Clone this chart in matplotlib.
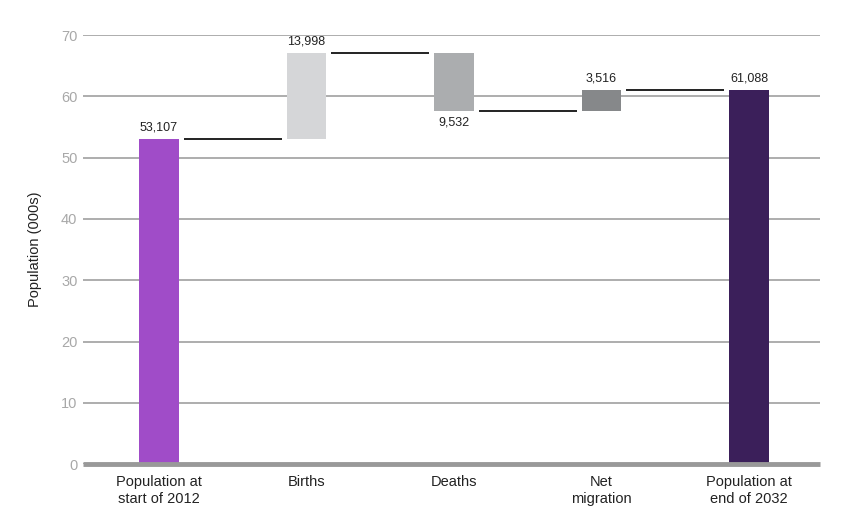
import matplotlib
matplotlib.use("Agg")
import matplotlib.pyplot as plt

categories = ["Population at\nstart of 2012", "Births", "Deaths", "Net\nmigration", "Population at\nend of 2032"]
changes = [53.107, 13.998, -9.532, 3.516, 61.088]
kinds = ["total", "delta", "delta", "delta", "total"]
value_labels = ["53,107", "13,998", "9,532", "3,516", "61,088"]
colors = ["#a04cc8", "#d5d6d8", "#abadaf", "#86888a", "#3b1f5a"]
yticks = [0, 10, 20, 30, 40, 50, 60, 70]

plt.rcParams['font.family'] = ['Liberation Sans', 'DejaVu Sans']

fig = plt.figure(figsize=(8.5, 5.31), dpi=100)
ax = fig.add_axes([0.0976, 0.126, 0.867, 0.808])

width = 0.27
gap = 0.034
running = 0.0
tops = []
for i, (c, k) in enumerate(zip(changes, kinds)):
    if k == "total":
        bottom, height = 0, c
        running = c
    else:
        if c >= 0:
            bottom, height = running, c
        else:
            bottom, height = running + c, -c
        running += c
    ax.bar(i, height, bottom=bottom, width=width, color=colors[i], zorder=3)
    tops.append(running)
    if c >= 0:
        ax.text(i, bottom + height + 0.9, value_labels[i], ha="center", va="bottom",
                fontsize=9, color="#222222", zorder=4)
    else:
        ax.text(i, bottom - 0.9, value_labels[i], ha="center", va="top",
                fontsize=9, color="#222222", zorder=4)

for i in range(len(changes) - 1):
    ax.plot([i + width / 2 + gap, i + 1 - width / 2 - gap], [tops[i], tops[i]],
            color="#111111", lw=1.3, zorder=4, solid_capstyle="butt")

ax.set_xlim(-0.515, 4.48)
ax.set_ylim(0, 70)
ax.set_yticks(yticks)
ax.set_xticks(range(len(categories)))
ax.set_xticklabels(categories, fontsize=10.5, color="#222222", linespacing=1.25)
ax.tick_params(axis="y", length=0, labelsize=10.5, labelcolor="#a8a8a8", pad=4)
ax.tick_params(axis="x", length=0, pad=8)
ax.grid(axis="y", color="#a0a0a0", lw=1.2, zorder=0)
ax.axhline(0, color="#999999", lw=3.5, zorder=5, clip_on=False, solid_capstyle="butt")
for s in ax.spines.values():
    s.set_visible(False)
ax.set_ylabel("Population (000s)", fontsize=10.5, color="#222222", labelpad=14)

fig.savefig("out.png", dpi=100)
